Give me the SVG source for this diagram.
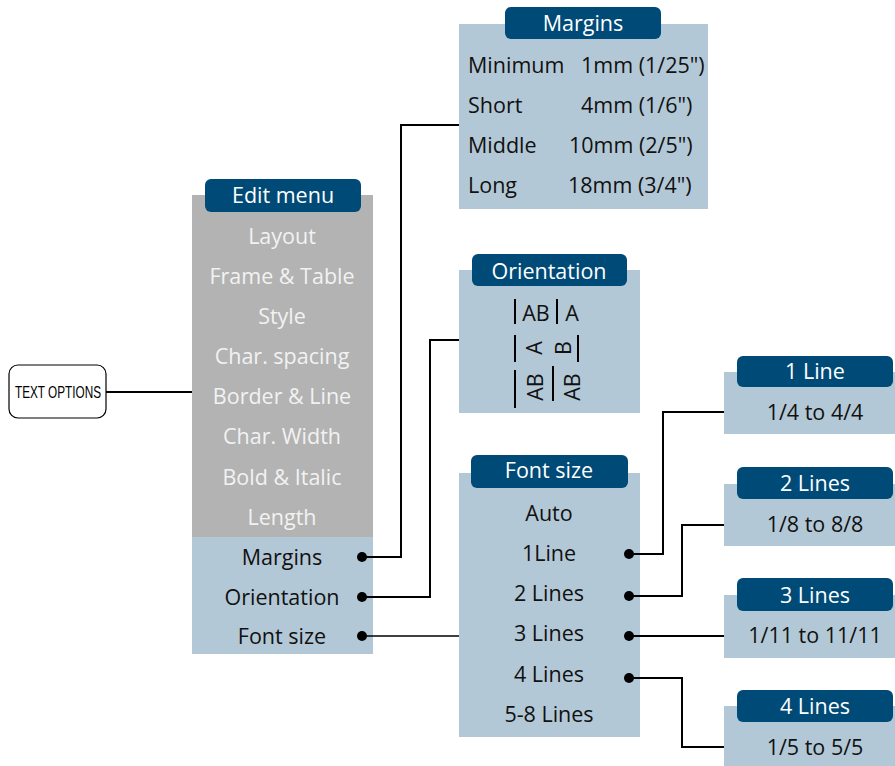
<svg xmlns="http://www.w3.org/2000/svg" width="895" height="766" viewBox="0 0 895 766">
<style>
.t{font-family:"Open Sans","Noto Sans",sans-serif;font-size:21.5px;text-anchor:middle;dominant-baseline:central;fill:#111}
.s{text-anchor:start}
.w{fill:#f2f2f2}
.h{fill:#ffffff}
.hd{fill:#004a77}
.pl{fill:#b3c8d6}
.gr{fill:#b3b3b3}
.c{fill:none;stroke:#000;stroke-width:2}
.bar{stroke:#000;stroke-width:2}
</style>
<rect width="895" height="766" fill="#fff"/>
<g id="text-options">
<rect x="9" y="365" width="97" height="53" rx="9" fill="#fff" stroke="#000" stroke-width="1.2"/>
<text x="58" y="392" style="font-family:'Liberation Sans',Arial,sans-serif;font-size:17px;text-anchor:middle;dominant-baseline:central" textLength="86" lengthAdjust="spacingAndGlyphs">TEXT OPTIONS</text>
</g>
<g id="edit-menu">
<rect class="gr" x="192" y="195" width="181" height="342"/>
<rect class="pl" x="192" y="537" width="181" height="117"/>
<rect class="hd" x="205" y="179" width="156" height="33" rx="6"/>
<text class="t h" x="283" y="194">Edit menu</text>
<text class="t w" x="282" y="235">Layout</text>
<text class="t w" x="282" y="275">Frame &amp; Table</text>
<text class="t w" x="282" y="315">Style</text>
<text class="t w" x="282" y="355">Char. spacing</text>
<text class="t w" x="282" y="395">Border &amp; Line</text>
<text class="t w" x="282" y="435">Char. Width</text>
<text class="t w" x="282" y="476">Bold &amp; Italic</text>
<text class="t w" x="282" y="516">Length</text>
<text class="t" x="282" y="556">Margins</text>
<text class="t" x="282" y="596">Orientation</text>
<text class="t" x="282" y="635">Font size</text>
</g>
<g id="margins">
<rect class="pl" x="459" y="24" width="249" height="185"/>
<rect class="hd" x="505" y="7" width="156" height="32" rx="6"/>
<text class="t h" x="583" y="22">Margins</text>
<text class="t s" x="468" y="64">Minimum</text>
<text class="t s" x="581" y="64">1mm (1/25")</text>
<text class="t s" x="468" y="104">Short</text>
<text class="t s" x="581" y="104">4mm (1/6")</text>
<text class="t s" x="468" y="144">Middle</text>
<text class="t s" x="569" y="144">10mm (2/5")</text>
<text class="t s" x="468" y="184">Long</text>
<text class="t s" x="568" y="184">18mm (3/4")</text>
</g>
<g id="orientation">
<rect class="pl" x="459" y="270" width="181" height="143"/>
<rect class="hd" x="472" y="254" width="155" height="32" rx="6"/>
<text class="t h" x="549" y="270">Orientation</text>
<line class="bar" x1="515" y1="299" x2="515" y2="324"/>
<text class="t" x="536" y="312">AB</text>
<line class="bar" x1="557" y1="299" x2="557" y2="324"/>
<text class="t" x="572" y="312">A</text>
<line class="bar" x1="515" y1="335" x2="515" y2="362"/>
<text class="t" transform="translate(533,348) rotate(-90)">A</text>
<text class="t" transform="translate(562,348) rotate(-90)">B</text>
<line class="bar" x1="578" y1="335" x2="578" y2="362"/>
<line class="bar" x1="515" y1="370" x2="515" y2="408"/>
<text class="t" transform="translate(534,387) rotate(-90)">AB</text>
<line class="bar" x1="553" y1="366" x2="553" y2="401"/>
<text class="t" transform="translate(571,387) rotate(-90)">AB</text>
</g>
<g id="font-size">
<rect class="pl" x="459" y="473" width="181" height="264"/>
<rect class="hd" x="471" y="455" width="157" height="33" rx="6"/>
<text class="t h" x="549" y="469">Font size</text>
<text class="t" x="549" y="512">Auto</text>
<text class="t" x="549" y="552">1Line</text>
<text class="t" x="549" y="592">2 Lines</text>
<text class="t" x="549" y="632">3 Lines</text>
<text class="t" x="549" y="673">4 Lines</text>
<text class="t" x="549" y="713">5-8 Lines</text>
</g>
<g id="one-line">
<rect class="pl" x="724" y="372" width="171" height="62"/>
<rect class="hd" x="737" y="356" width="156" height="31" rx="6"/>
<text class="t h" x="815" y="370">1 Line</text>
<text class="t" x="815" y="411">1/4 to 4/4</text>
</g>
<g id="two-lines">
<rect class="pl" x="724" y="484" width="171" height="62"/>
<rect class="hd" x="737" y="467" width="156" height="32" rx="6"/>
<text class="t h" x="815" y="482">2 Lines</text>
<text class="t" x="815" y="523">1/8 to 8/8</text>
</g>
<g id="three-lines">
<rect class="pl" x="724" y="595" width="171" height="63"/>
<rect class="hd" x="737" y="578" width="156" height="33" rx="6"/>
<text class="t h" x="815" y="594">3 Lines</text>
<text class="t" x="815" y="634">1/11 to 11/11</text>
</g>
<g id="four-lines">
<rect class="pl" x="724" y="706" width="171" height="60"/>
<rect class="hd" x="737" y="690" width="156" height="32" rx="6"/>
<text class="t h" x="815" y="705">4 Lines</text>
<text class="t" x="815" y="746">1/5 to 5/5</text>
</g>
<g id="connectors">
<line class="c" x1="106" y1="392" x2="192" y2="392"/>
<polyline class="c" points="362,557 401,557 401,125 459,125"/>
<polyline class="c" points="362,597 430,597 430,340 459,340"/>
<polyline class="c" points="362,636 459,636" style="stroke-width:1.5"/>
<polyline class="c" points="629,554 663,554 663,412 724,412"/>
<polyline class="c" points="629,596 682,596 682,525 724,525"/>
<polyline class="c" points="629,636 724,636"/>
<polyline class="c" points="629,678 682,678 682,747 724,747"/>
<circle cx="362" cy="557" r="5"/>
<circle cx="362" cy="597" r="5"/>
<circle cx="362" cy="636" r="5"/>
<circle cx="629" cy="554" r="5"/>
<circle cx="629" cy="596" r="5"/>
<circle cx="629" cy="636" r="5"/>
<circle cx="629" cy="678" r="5"/>
</g>
</svg>
